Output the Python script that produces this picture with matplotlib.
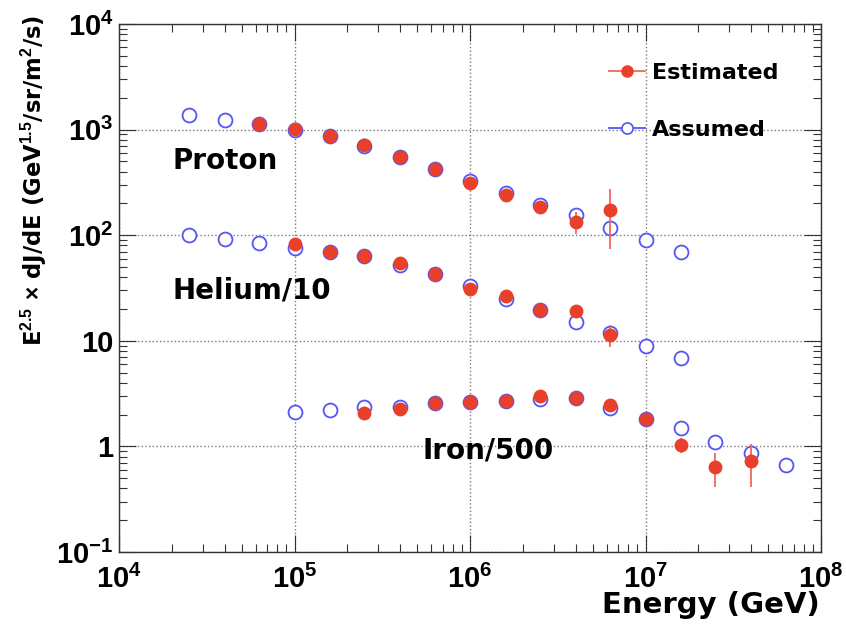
import matplotlib
matplotlib.use("Agg")
import matplotlib.pyplot as plt
from matplotlib.lines import Line2D
from matplotlib.ticker import NullFormatter

plt.rcParams["mathtext.fontset"] = "custom"
plt.rcParams["mathtext.bf"] = "Liberation Sans:bold"
plt.rcParams["mathtext.rm"] = "Liberation Sans:bold"
plt.rcParams["mathtext.default"] = "bf"

# Energy bins (GeV)
energy = [2.5e4, 4.0e4, 6.3e4, 1.0e5, 1.6e5, 2.5e5, 4.0e5, 6.3e5, 1.0e6,
          1.6e6, 2.5e6, 4.0e6, 6.3e6, 1.0e7, 1.6e7, 2.5e7, 4.0e7, 6.3e7]

# Proton
proton_assumed_e = energy[0:15]
proton_assumed = [1375, 1230, 1120, 1000, 875, 700, 550, 420, 325, 250,
                  193, 155, 116, 90, 69]
proton_est_e = energy[2:13]
proton_est = [1120, 1010, 875, 714, 553, 424, 310, 240, 184, 134, 173]
proton_est_err = [30, 25, 22, 18, 15, 12, 10, 10, 14, 32, 99]

# Helium/10
helium_assumed_e = energy[0:15]
helium_assumed = [100, 92, 84, 76, 69, 64, 52, 43, 33, 24.7, 19.6, 15,
                  11.9, 9.0, 6.9]
helium_est_e = energy[3:13]
helium_est = [82, 69, 64, 55, 43, 31, 26.5, 19.6, 19.3, 11.4]
helium_est_err = [3, 2.5, 2.5, 2, 2, 1.5, 1.2, 1, 1, 2.6]

# Iron/500
iron_assumed_e = energy[3:18]
iron_assumed = [2.12, 2.21, 2.38, 2.36, 2.55, 2.65, 2.71, 2.81, 2.85, 2.33,
                1.83, 1.48, 1.11, 0.87, 0.67]
iron_est_e = energy[5:17]
iron_est = [2.08, 2.24, 2.55, 2.65, 2.71, 2.99, 2.85, 2.48, 1.83, 1.03,
            0.64, 0.73]
iron_est_err = [0.2, 0.12, 0.1, 0.1, 0.1, 0.15, 0.12, 0.15, 0.1, 0.16,
                0.23, 0.32]

x_ticks = [1e4, 1e5, 1e6, 1e7, 1e8]
x_tick_labels = ["$10^{4}$", "$10^{5}$", "$10^{6}$", "$10^{7}$", "$10^{8}$"]
y_ticks = [0.1, 1, 10, 100, 1000, 10000]
y_tick_labels = ["$10^{-1}$", "1", "10", "$10^{2}$", "$10^{3}$", "$10^{4}$"]

red = "#e9402b"
red_light = "#f0675a"
blue = "#5555f5"

fig = plt.figure(figsize=(8.46, 6.34), dpi=100)
ax = fig.add_axes([119 / 846, 82 / 634, 702 / 846, 528 / 634])
ax.set_xscale("log")
ax.set_yscale("log")
ax.set_xlim(1e4, 1e8)
ax.set_ylim(0.1, 1e4)

# Assumed spectra (open circles) first, estimated on top
for xs, ys in [(proton_assumed_e, proton_assumed),
               (helium_assumed_e, helium_assumed),
               (iron_assumed_e, iron_assumed)]:
    ax.plot(xs, ys, "o", ls="none", mfc="white", mec=blue, ms=10, mew=1.3,
            zorder=3)

for xs, ys, err in [(proton_est_e, proton_est, proton_est_err),
                    (helium_est_e, helium_est, helium_est_err),
                    (iron_est_e, iron_est, iron_est_err)]:
    ax.errorbar(xs, ys, yerr=err, fmt="o", color=red, ecolor=red_light,
                elinewidth=1.3, capsize=3.5, capthick=1.3, ms=10, mew=0,
                zorder=4)

# Species labels
label_font = dict(fontsize=20, fontweight="bold", ha="left", va="baseline")
ax.text(2.03e4, 424, "Proton", **label_font)
ax.text(2.03e4, 25.4, "Helium/10", **label_font)
ax.text(5.33e5, 0.776, "Iron/500", **label_font)

# Axes styling
ax.grid(True, which="major", ls=":", color="#7a7a7a", lw=1.0)
ax.set_axisbelow(True)
ax.set_xticks(x_ticks)
ax.set_xticklabels(x_tick_labels, fontsize=21, fontweight="bold",
                   fontfamily="Liberation Sans")
ax.set_yticks(y_ticks)
ax.set_yticklabels(y_tick_labels, fontsize=21, fontweight="bold",
                   fontfamily="Liberation Sans")
ax.xaxis.set_minor_formatter(NullFormatter())
ax.yaxis.set_minor_formatter(NullFormatter())
ax.tick_params(which="both", direction="in", top=True, right=True,
               width=0.8, color="#333333")
ax.tick_params(which="major", length=12)
ax.tick_params(which="minor", length=6)
ax.tick_params(axis="x", which="major", pad=9)
ax.tick_params(axis="y", which="major", pad=4)
for sp in ax.spines.values():
    sp.set_color("#333333")
    sp.set_linewidth(1.0)

fig.text(820 / 846, 1 - 613 / 634, "Energy (GeV)", fontsize=21,
         fontweight="bold", ha="right", va="baseline")
fig.text(34 / 846, 1 - 15 / 634,
         "E$^{2.5}$$\\,\\times\\,$dJ/dE (GeV$^{1.5}$/sr/m$^{2}$/s)",
         fontsize=16.3, fontweight="bold", rotation=90, ha="center", va="top")

# Legend
h_est = Line2D([], [], color=red_light, lw=1.3, marker="o", mfc=red,
               mec=red, ms=8)
h_ass = Line2D([], [], color=blue, lw=1.3, marker="o", mfc="white",
               mec=blue, ms=8, mew=1.2)
ax.legend(handles=[h_est, h_ass], labels=["Estimated", "Assumed"],
          loc="upper left", bbox_to_anchor=(609 / 846, 1 - 63 / 634),
          bbox_transform=fig.transFigure, frameon=False, borderpad=0,
          borderaxespad=0, handlelength=1.6, handletextpad=0.35,
          labelspacing=1.65, prop=dict(weight="bold", size=16))

fig.savefig("out.png", dpi=100)
